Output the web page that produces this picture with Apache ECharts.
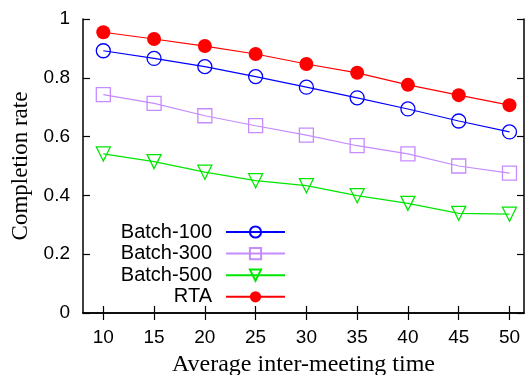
<!DOCTYPE html>
<html>
<head>
<meta charset="utf-8">
<script src="https://cdn.jsdelivr.net/npm/echarts@6/dist/echarts.min.js"></script>
<style>html,body{margin:0;padding:0;background:#fff}#c{width:526px;height:375px}</style>
</head>
<body>
<div id="c"></div>
<script>
var xValues = [10, 15, 20, 25, 30, 35, 40, 45, 50];
var batch100 = [0.892, 0.866, 0.838, 0.804, 0.768, 0.732, 0.694, 0.653, 0.616];
var batch300 = [0.743, 0.713, 0.671, 0.637, 0.605, 0.569, 0.541, 0.500, 0.476];
var batch500 = [0.541, 0.515, 0.479, 0.450, 0.433, 0.399, 0.373, 0.339, 0.336];
var rta = [0.955, 0.932, 0.908, 0.881, 0.847, 0.817, 0.776, 0.741, 0.707];
var xTicks = [10, 15, 20, 25, 30, 35, 40, 45, 50];
var yTicks = [0, 0.2, 0.4, 0.6, 0.8, 1];
var seriesNames = ['Batch-100', 'Batch-300', 'Batch-500', 'RTA'];

function pairs(vals) { return xValues.map(function (x, i) { return [x, vals[i]]; }); }

var chart = echarts.init(document.getElementById('c'), null, {renderer: 'canvas'});
var sans = 'Liberation Sans';
var serif = 'Liberation Serif';
var axisLine = {show: true, lineStyle: {color: '#000', width: 1.5}};
function mkSeries(name, vals, color, symbol, filled, rotate) {
  return {
    name: name, type: 'line', data: pairs(vals), xAxisIndex: 0, yAxisIndex: 0,
    symbol: symbol, symbolSize: 14, symbolRotate: rotate || 0, showAllSymbol: true,
    lineStyle: {color: color, width: 1.2},
    itemStyle: {color: filled ? color : 'rgba(255,255,255,0)', borderColor: color, borderWidth: filled ? 0 : 1.3},
    emphasis: {disabled: true}, z: 3
  };
}
chart.setOption({
  animation: false,
  grid: {left: 83, top: 19, right: 2, bottom: 62, show: false, containLabel: false, outerBoundsMode: 'none'},
  legend: {
    data: seriesNames, orient: 'vertical', left: 110, top: 217, align: 'right',
    itemWidth: 59, itemHeight: 14, itemGap: 1.6,
    textStyle: {fontFamily: sans, fontSize: 20, color: '#000', width: 97, align: 'right', lineHeight: 20, padding: [0, 9, 0, 0]}
  },
  xAxis: [{
    type: 'value', min: 8, max: 51.43, position: 'bottom',
    name: 'Average inter-meeting time', nameLocation: 'middle', nameGap: 40,
    nameTextStyle: {fontFamily: serif, fontSize: 24, color: '#000'},
    axisLine: axisLine, splitLine: {show: false},
    axisTick: {show: true, inside: true, length: 7, customValues: xTicks, lineStyle: {color: '#000', width: 1.2}},
    axisLabel: {customValues: xTicks, fontFamily: sans, fontSize: 19, color: '#000', margin: 15}
  }, {
    type: 'value', min: 8, max: 51.43, position: 'top',
    axisLine: axisLine, splitLine: {show: false},
    axisTick: {show: true, inside: true, length: 7, customValues: xTicks, lineStyle: {color: '#000', width: 1.2}},
    axisLabel: {show: false}
  }],
  yAxis: [{
    type: 'value', min: 0, max: 1, interval: 0.2, position: 'left',
    name: 'Completion rate', nameLocation: 'middle', nameGap: 48, nameRotate: 90,
    nameTextStyle: {fontFamily: serif, fontSize: 23, color: '#000'},
    axisLine: axisLine, splitLine: {show: false},
    axisTick: {show: true, inside: true, length: 7, lineStyle: {color: '#000', width: 1.2}},
    axisLabel: {fontFamily: sans, fontSize: 19, color: '#000', margin: 13,
      formatter: function (v) { return String(Math.round(v * 10) / 10); }}
  }, {
    type: 'value', min: 0, max: 1, interval: 0.2, position: 'right',
    axisLine: axisLine, splitLine: {show: false},
    axisTick: {show: true, inside: true, length: 7, lineStyle: {color: '#000', width: 1.2}},
    axisLabel: {show: false}
  }],
  series: [
    mkSeries('Batch-100', batch100, '#0000ff', 'circle', false),
    mkSeries('Batch-300', batch300, '#c58bff', 'rect', false),
    mkSeries('Batch-500', batch500, '#00e600', 'triangle', false, 180),
    mkSeries('RTA', rta, '#ff0000', 'circle', true)
  ]
});
</script>
</body>
</html>
